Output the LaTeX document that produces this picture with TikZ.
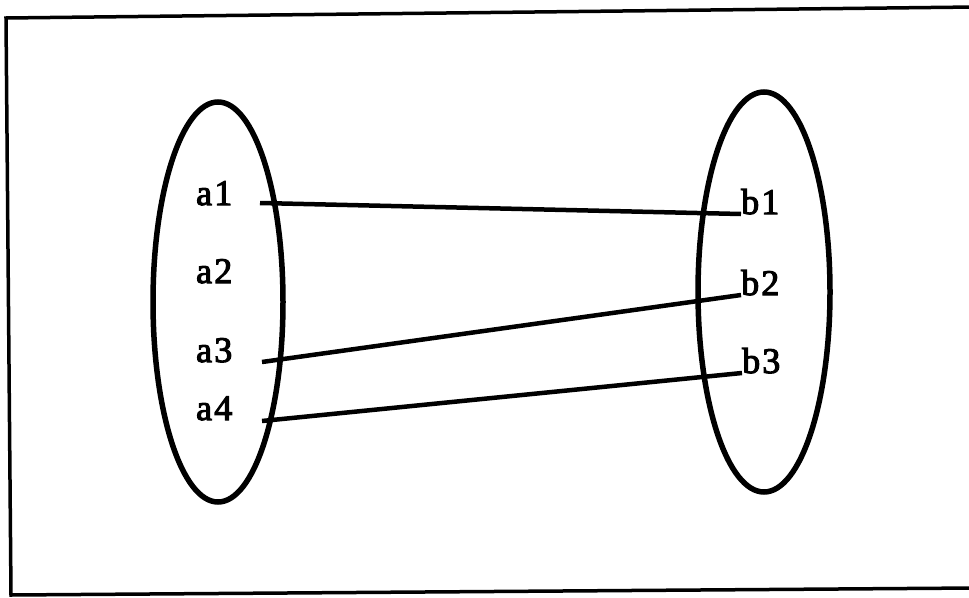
\documentclass[tikz,border=0pt]{standalone}
\usepackage{fontspec}
\setmainfont[FakeBold=3,LetterSpace=6]{Liberation Serif}
\begin{document}
\begin{tikzpicture}[x=1pt,y=-1pt,
  lbl/.style={inner sep=0pt,anchor=base west,font=\fontsize{36}{42}\selectfont},
  set/.style={draw,line width=5.5pt},
  link/.style={draw,line width=4.5pt}]
\useasboundingbox (0,0) rectangle (969,597);
\begin{scope}
\clip (0,0) rectangle (969,597);
\draw[line width=3.5pt] (975,7) -- (6,18) -- (11,595) -- (975,588);
\end{scope}
\draw[set] (218,302) ellipse [x radius=65, y radius=200];
\draw[set] (764,292) ellipse [x radius=66, y radius=200];
\node[lbl] (a1) at (196,205) {a1};
\node[lbl] (a2) at (196,283) {a2};
\node[lbl] (a3) at (196,362) {a3};
\node[lbl] (a4) at (196,420) {a4};
\node[lbl] (b1) at (741,214) {b1};
\node[lbl] (b2) at (741,295) {b2};
\node[lbl] (b3) at (742,373) {b3};
\draw[link] ([shift={(64,-2)}]a1.base west) -- (b1.base west);
\draw[link] ([shift={(66,0)}]a3.base west) -- (b2.base west);
\draw[link] ([shift={(66,1)}]a4.base west) -- (b3.base west);
\end{tikzpicture}
\end{document}
